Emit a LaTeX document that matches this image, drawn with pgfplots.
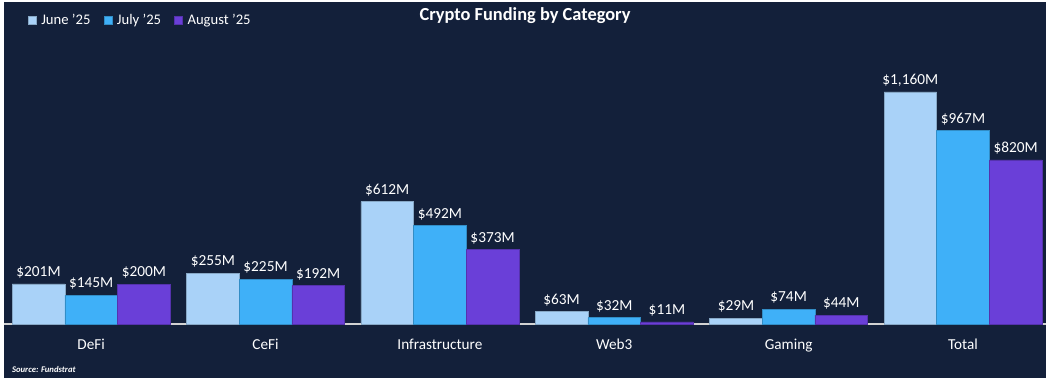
\documentclass[border=0pt]{standalone}
\usepackage{pgfplots}
\pgfplotsset{compat=1.18}
\usepackage{fontspec}
\setmainfont{Carlito}
\definecolor{bgnavy}{HTML}{13203A}
\definecolor{cjune}{HTML}{A9D2F8}
\definecolor{cjuly}{HTML}{3FB0F8}
\definecolor{caug}{HTML}{6A3FD8}
\begin{document}
\begin{tikzpicture}[x=1pt,y=1pt]
\fill[white] (0,0) rectangle (787.5,289.5);
\fill[bgnavy] (3,6) rectangle (784.5,288);
\begin{axis}[
  at={(3pt,46.5pt)}, anchor=south west,
  scale only axis, width=781.5pt, height=220.5pt,
  ybar=0pt, bar width=39.5pt,
  xmin=-0.5, xmax=5.476, ymin=0, ymax=1470,
  xtick=data,
  xticklabels={DeFi,CeFi,Infrastructure,Web3,Gaming,Total},
  xticklabel style={font=\fontsize{11.4}{13}\selectfont, text=white, yshift=-8pt},
  major tick length=0pt,
  axis x line=bottom, hide y axis,
  x axis line style={draw=gray!35, line width=1.3pt, -},
  axis line style={-},
  nodes near coords={\$\pgfmathprintnumber{\pgfplotspointmeta}M},
  nodes near coords style={font=\fontsize{11.5}{13}\selectfont, text=white, inner sep=2pt, yshift=2pt},
  /pgf/number format/.cd, 1000 sep={,}, assume math mode=true, fixed, precision=0, /pgfplots/.cd,
  legend columns=3,
  legend style={at={(0.023,1.034)}, anchor=west, draw=none, fill=none, text=white,
    font=\fontsize{11}{13}\selectfont, inner sep=0pt,
    /tikz/every even column/.append style={column sep=8pt},
    /tikz/every odd column/.append style={column sep=1.5pt}},
  legend image code/.code={\fill[#1] (0pt,-3pt) rectangle (6pt,3pt);},
  clip=false,
]
\addplot[fill=cjune, draw=cjune!80!black, line width=0.3pt] coordinates {(0,201) (1,255) (2,612) (3,63) (4,29) (5,1160)};
\addplot[fill=cjuly, draw=cjuly!80!black, line width=0.3pt] coordinates {(0,145) (1,225) (2,492) (3,32) (4,74) (5,967)};
\addplot[fill=caug, draw=caug!80!black, line width=0.3pt] coordinates {(0,200) (1,192) (2,373) (3,11) (4,44) (5,820)};
\legend{June '25, July '25, August '25}
\end{axis}
\node[anchor=center, text=white, font=\fontsize{13.8}{15}\selectfont\bfseries] at (393.75,278) {Crypto Funding by Category};
\node[anchor=west, text=white, font=\fontsize{6.5}{8}\selectfont\bfseries\itshape] at (5.5,12.75) {Source: Fundstrat};
\pgfresetboundingbox
\useasboundingbox (0,0) rectangle (787.5,289.5);
\end{tikzpicture}
\end{document}
